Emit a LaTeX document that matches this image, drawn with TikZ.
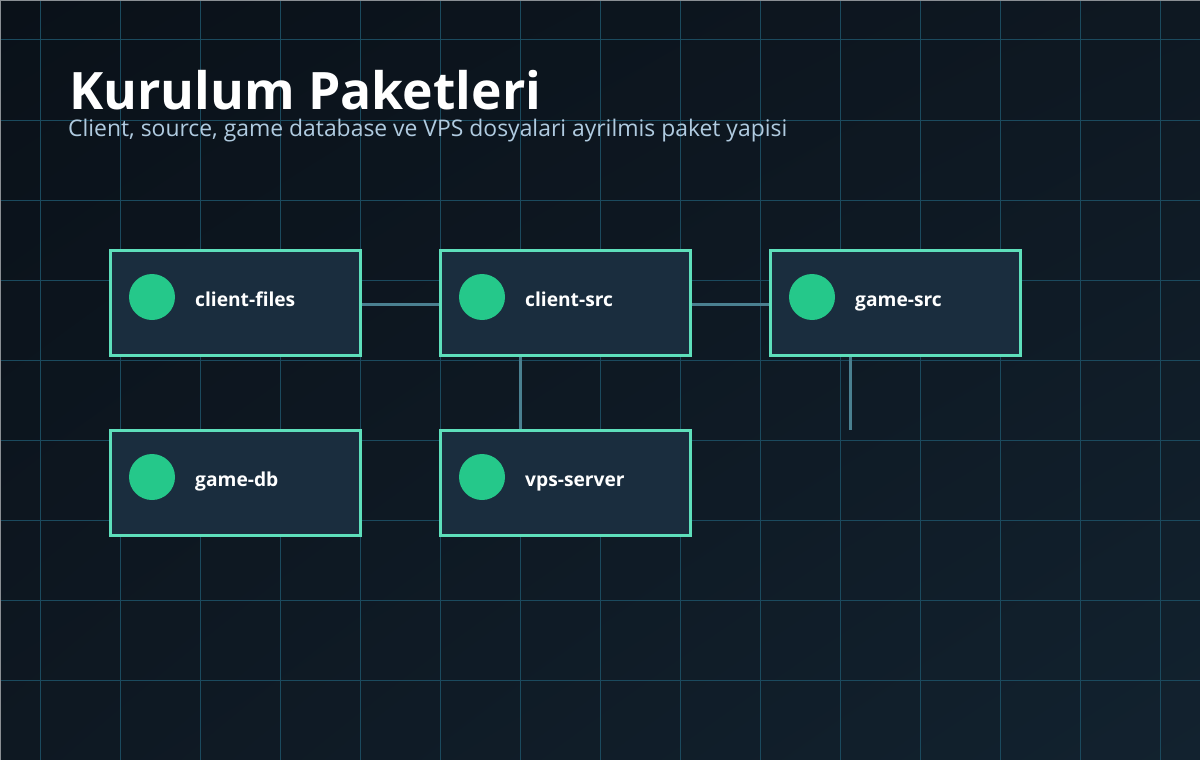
\documentclass[tikz,border=0pt]{standalone}
\usepackage{fontspec}
\setmainfont{Open Sans}
\usetikzlibrary{shadings}
\definecolor{bgA}{HTML}{0A1119}
\definecolor{bgB}{HTML}{12222F}
\definecolor{bgM}{HTML}{0E1822}
\definecolor{gridc}{HTML}{1B4A5E}
\definecolor{edgec}{HTML}{4A8090}
\definecolor{boxline}{HTML}{5EDFBB}
\definecolor{boxfill}{HTML}{1A2D3E}
\definecolor{dotc}{HTML}{25C88A}
\definecolor{subc}{HTML}{B0CBE0}
\definecolor{framec}{HTML}{8A8F94}
\begin{document}
\begin{tikzpicture}[x=1pt,y=-1pt,
  pkg/.style={draw=boxline, line width=3pt, fill=boxfill, rectangle, minimum width=250pt, minimum height=105pt, anchor=north west, inner sep=0pt, outer sep=0pt},
  dot/.style={circle, fill=dotc, minimum size=46pt, inner sep=0pt},
  lbl/.style={anchor=base west, inner sep=0pt, text=white, font=\fontsize{19.2}{22}\selectfont\bfseries},
  link/.style={draw=edgec, line width=3pt}]
\useasboundingbox (0,0) rectangle (1200,760);
\shade[upper left=bgA, lower right=bgB, upper right=bgM, lower left=bgM] (0,0) rectangle (1200,760);
\foreach \x in {40,120,...,1160} \draw[gridc, line width=1pt] (\x,0) -- (\x,760);
\foreach \y in {40,120,...,680} \draw[gridc, line width=1pt] (0,\y) -- (1200,\y);
\draw[framec, line width=1.2pt] (0,760) -- (0,0) -- (1200,0);
% title
\node[anchor=base west, inner sep=0pt, text=white, font=\fontsize{51.6}{58}\selectfont\bfseries] (title) at (69,110) {Kurulum Paketleri};
\node[anchor=base west, inner sep=0pt, text=subc, font=\fontsize{22.9}{26}\selectfont] (sub) at (68,136) {Client, source, game database ve VPS dosyalari ayrilmis paket yapisi};
% boxes
\node[pkg] (cf) at (110,250) {};
\node[pkg] (cs) at (440,250) {};
\node[pkg] (gs) at (770,250) {};
\node[pkg] (gd) at (110,430) {};
\node[pkg] (vs) at (440,430) {};
% connectors
\coordinate (gsend) at (850,430);
\draw[link] ([yshift=-1.5pt]cf.east) -- ([yshift=-1.5pt]cs.west);
\draw[link] ([yshift=-1.5pt]cs.east) -- ([yshift=-1.5pt]gs.west);
\draw[link] ([xshift=-45pt]cs.south) -- ([xshift=-45pt]vs.north);
\draw[link] ([xshift=-45pt]gs.south) -- (gsend);
% redraw box borders over connector ends
\foreach \n in {cf,cs,gs,gd,vs} \draw[boxline, line width=3pt] (\n.north west) rectangle (\n.south east);
% dots and labels
\node[dot] (cfd) at (152,297) {};
\node[dot] (csd) at (482,297) {};
\node[dot] (gsd) at (812,297) {};
\node[dot] (gdd) at (152,477) {};
\node[dot] (vsd) at (482,477) {};
\node[lbl] (cft) at (195,306.5) {client-files};
\node[lbl] (cst) at (525,306.5) {client-src};
\node[lbl] (gst) at (855,306.5) {game-src};
\node[lbl] (gdt) at (195,486.5) {game-db};
\node[lbl] (vst) at (525,486.5) {vps-server};
\end{tikzpicture}
\end{document}
